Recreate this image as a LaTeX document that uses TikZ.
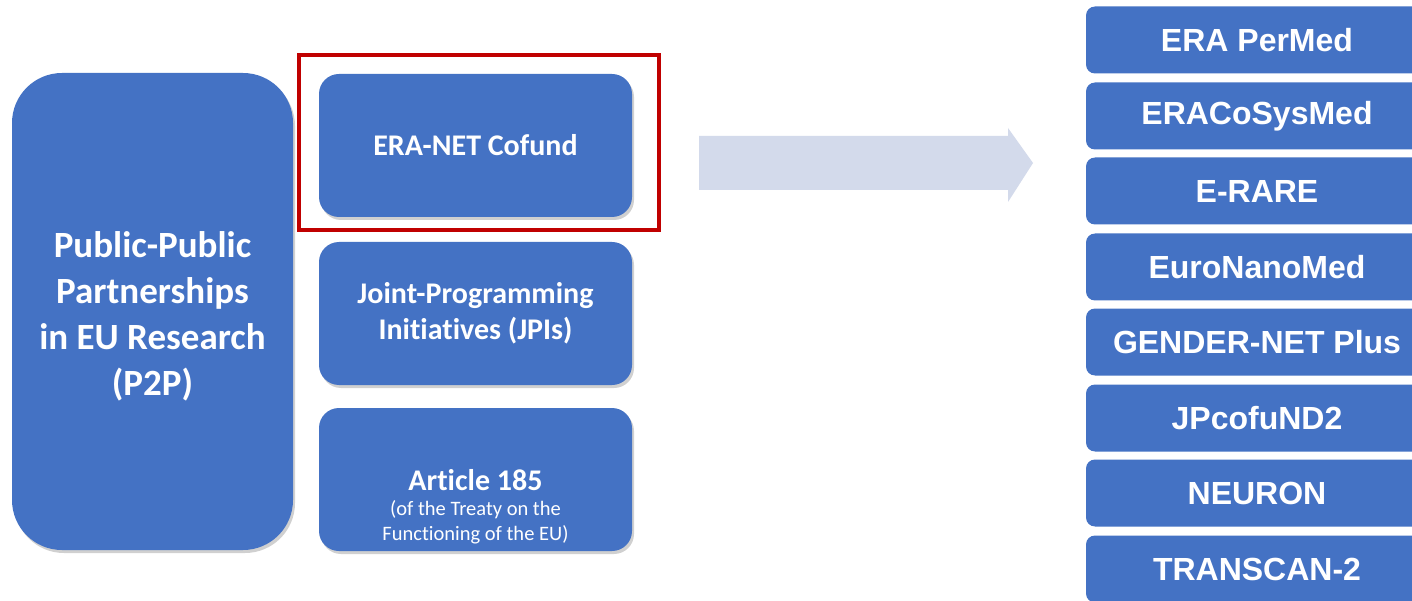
\documentclass[tikz,border=0pt]{standalone}
\usepackage{fontspec}
\setmainfont[Ligatures=NoCommon]{Carlito}
\newfontfamily\arialfont{Liberation Sans}
\usetikzlibrary{shadows}
\definecolor{boxblue}{HTML}{4472C4}
\definecolor{framered}{HTML}{C00000}
\definecolor{arrowfill}{HTML}{D3DAEB}
\tikzset{
  leftbox/.style={fill=boxblue, text=white, rounded corners=20pt, inner sep=0pt,
    minimum width=313pt, minimum height=143pt, align=center,
    drop shadow={opacity=0.3, shadow xshift=2pt, shadow yshift=-3pt, fill=black!60}},
  bigbox/.style={leftbox, rounded corners=50pt, minimum width=281pt, minimum height=477pt},
  rightbox/.style={fill=boxblue, text=white, rounded corners=9pt, inner sep=0pt,
    minimum width=342pt, minimum height=67pt,
    font={\arialfont\bfseries\fontsize{32}{38}\selectfont}},
  redframe/.style={draw=framered, line width=4pt, inner sep=0pt, minimum width=360pt, minimum height=175pt},
  bigtext/.style={font={\bfseries\fontsize{37}{46}\selectfont}},
  midtext/.style={font={\bfseries\fontsize{30}{36}\selectfont}}
}
\begin{document}
\begin{tikzpicture}[x=1pt,y=-1pt]
\clip (0,0) rectangle (1412,601);
\fill[white] (0,0) rectangle (1412,601);
% big left box
\node[bigbox] (p2p) at (152.5,311.5) {};
\node[text=white, align=center, bigtext] (p2ptext) at (152.5,316.5) {Public-Public\\Partnerships\\in EU Research\\(P2P)};
% middle column
\node[redframe] (frame) at (479,142.5) {};
\node[leftbox, midtext] (eranet) at (475.5,145.5) {ERA-NET Cofund};
\node[leftbox, midtext] (jpi) at (475.5,313.5) {Joint-Programming\\Initiatives (JPIs)};
\node[leftbox] (art) at (475.5,479.5) {};
\node[text=white, align=center, font={\fontsize{20.5}{25}\selectfont}, anchor=north] (arttext) at (475.5,466)
  {{\bfseries\fontsize{30}{36}\selectfont Article 185}\\(of the Treaty on the\\Functioning of the EU)};
% arrow
\coordinate (a1) at (699,136);
\coordinate (a2) at (1008,136);
\coordinate (a3) at (1008,128);
\coordinate (a4) at (1033,163);
\coordinate (a5) at (1008,202);
\coordinate (a6) at (1008,190);
\coordinate (a7) at (699,190);
\fill[arrowfill] (a1) -- (a2) -- (a3) -- (a4) -- (a5) -- (a6) -- (a7) -- cycle;
% right column
\node[rightbox] (r1) at (1257,40) {ERA PerMed};
\node[rightbox] (r2) at (1257,116) {ERACoSysMed};
\node[rightbox] (r3) at (1257,191) {E-RARE};
\node[rightbox] (r4) at (1257,267) {EuroNanoMed};
\node[rightbox] (r5) at (1257,342) {GENDER-NET Plus};
\node[rightbox] (r6) at (1257,418) {JPcofuND2};
\node[rightbox] (r7) at (1257,493) {NEURON};
\node[rightbox] (r8) at (1257,569) {TRANSCAN-2};
\end{tikzpicture}
\end{document}
